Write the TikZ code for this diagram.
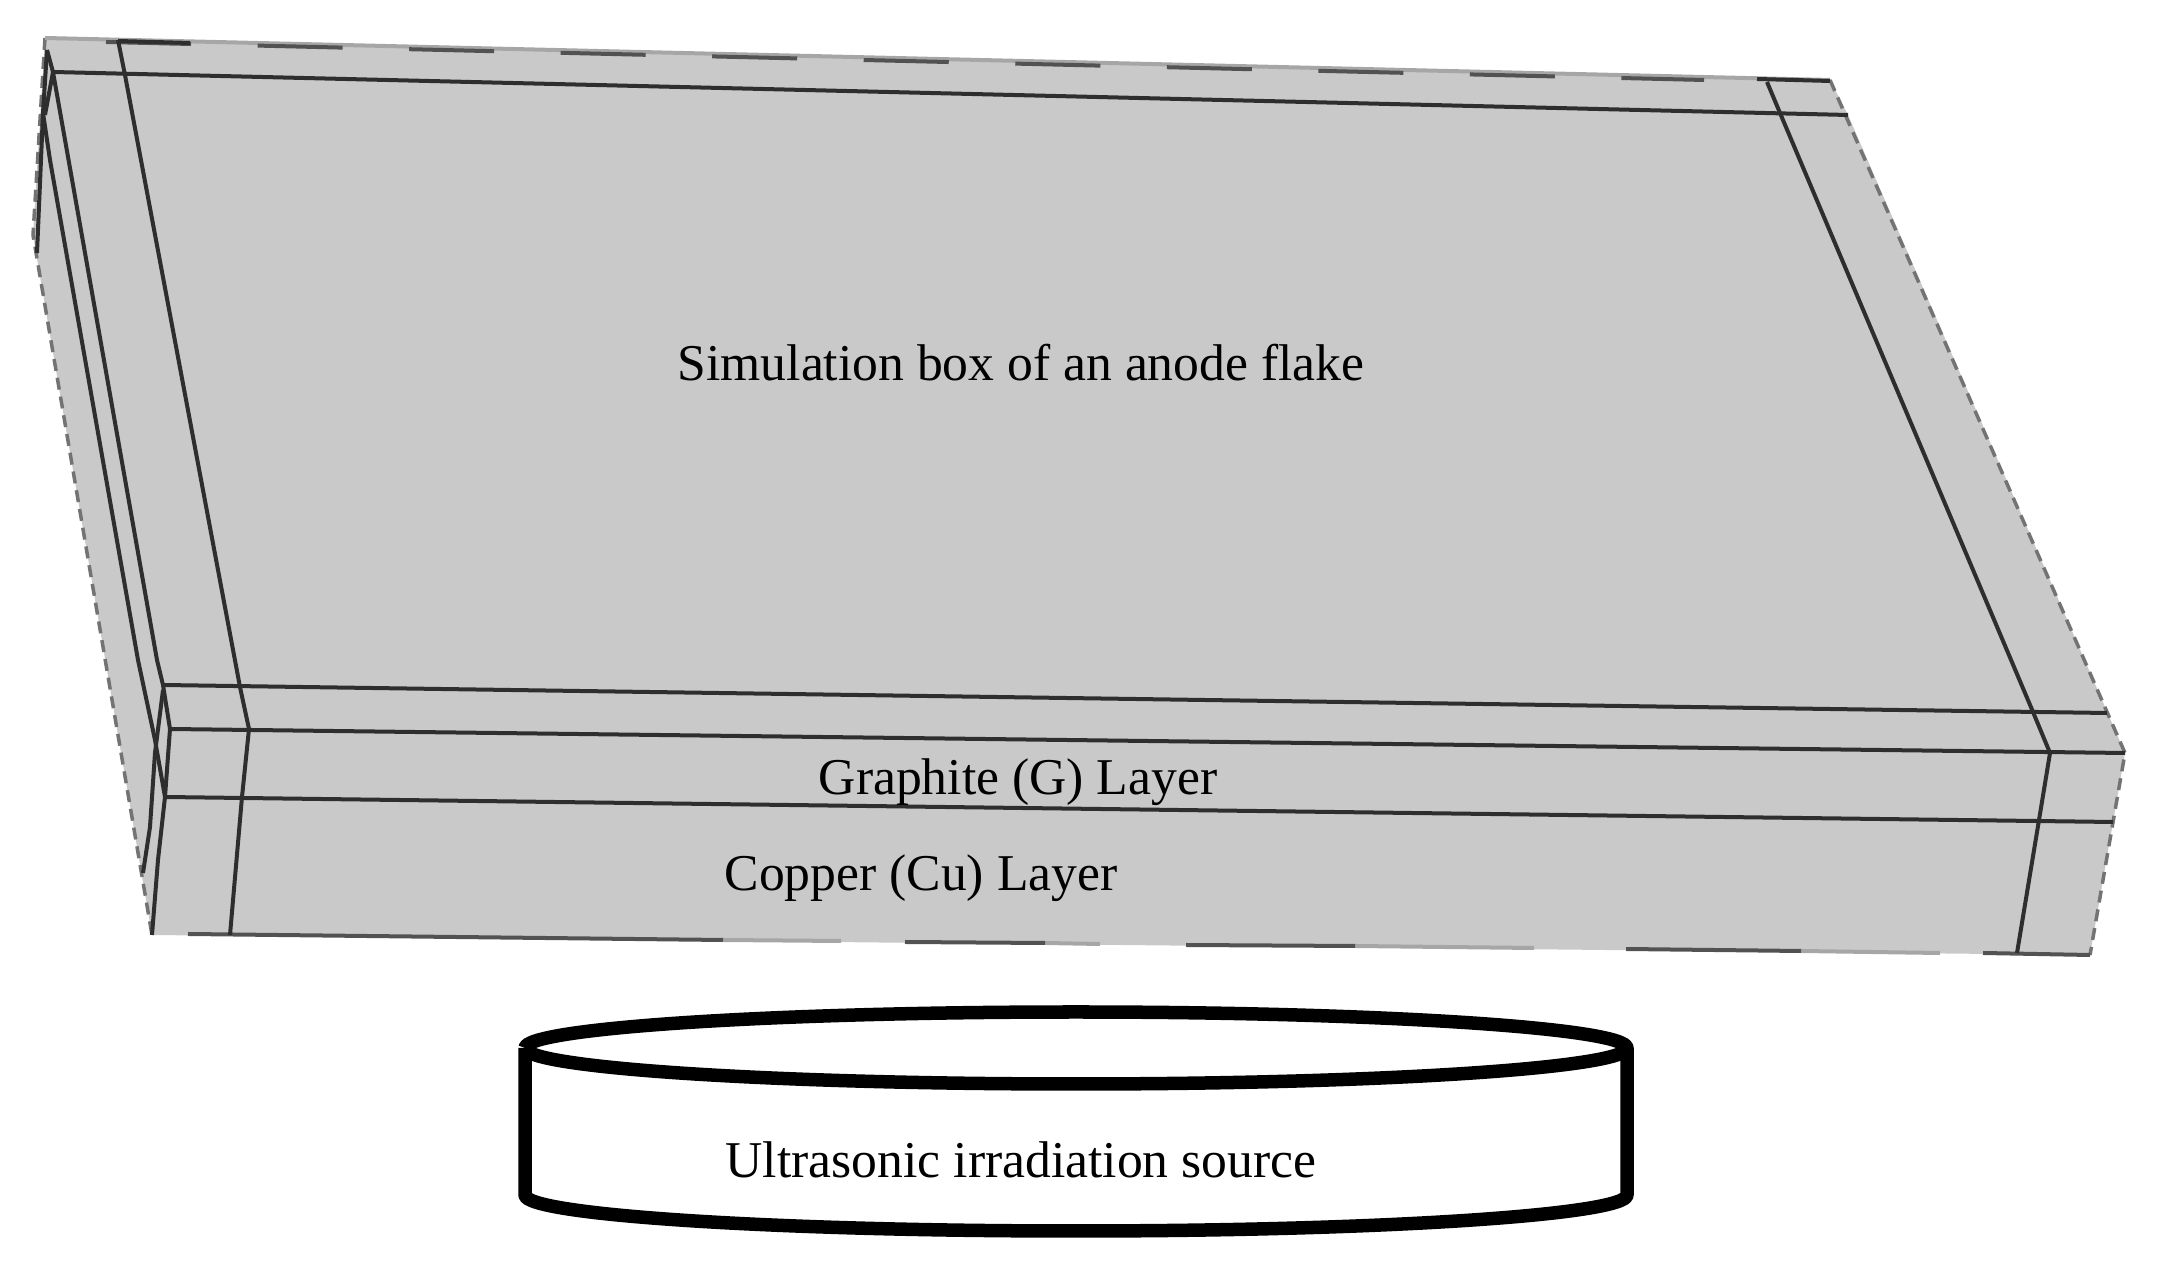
\documentclass[tikz,border=0pt]{standalone}
\usepackage{fontspec}
\setmainfont{Liberation Serif}
\tikzset{
	gridline/.style = {
		draw=black!82,
		line width=0.04cm,
		line join=round
	},
	rimline/.style = {
		draw=black!55,
		line width=0.035cm,
		dash pattern=on 0.12cm off 0.07cm
	},
	edgedark/.style = {
		draw=black!68,
		line width=0.04cm
	},
	edgefade/.style = {
		draw=black!35,
		line width=0.04cm
	},
	sourceline/.style = {
		draw=black,
		line width=0.135cm,
		line join=round
	},
	every node/.style = {
		align=center,
		inner sep=0pt,
		anchor=base,
		font=\fontsize{14.68}{17}\selectfont
	}
}
\begin{document}
\begin{tikzpicture}[x=0.01cm,y=-0.01cm]
	\useasboundingbox (0,0) rectangle (2163,1277);
	\coordinate (topleft) at (45,38);
	\coordinate (topright) at (1830,80);
	\coordinate (backright) at (1848,115);
	\coordinate (farright) at (2125,753);
	\coordinate (lowright) at (2090,955);
	\coordinate (lowleft) at (152,935);
	\coordinate (farleft) at (33,235);
	\fill[black!21] (topleft) -- (topright) -- (backright) -- (farright) -- (lowright) -- (lowleft) -- (farleft) -- cycle;
	\draw[rimline] (topright) -- (farright) -- (lowright);
	\draw[rimline] (topleft) -- (farleft) -- (lowleft);
	\draw[edgefade] (topleft) -- (topright);
	\draw[edgedark, dash pattern=on 0.85cm off 0.665cm] (106,42) -- (1704,80);
	\foreach \xa/\ya/\xb/\yb in {723/940/841/941, 1045/943/1100/944, 1355/946/1534/948, 1801/951/1940/953}
		\draw[edgefade] (\xa,\ya) -- (\xb,\yb);
	\foreach \xa/\ya/\xb/\yb in {188/934/723/940, 905/942/1045/943, 1186/945/1355/946, 1626/949/1801/951, 1983/953/2090/955}
		\draw[edgedark] (\xa,\ya) -- (\xb,\yb);
	\draw[gridline] (118,41) -- (190,43);
	\draw[gridline] (1757,79) -- (1830,81);
	\foreach \ya/\xa/\yb/\xb in {72/53/115/1848, 685/163/713/2107, 729/170/753/2125, 797/165/822/2113}
		\draw[gridline] (\xa,\ya) -- (\xb,\yb);
	\draw[gridline] (118,40) -- (125,75) -- (240,687) -- (249,729) -- (242,797) -- (230,935);
	\draw[gridline] (1767,82) -- (1780,113) -- (2033,712) -- (2050,753) -- (2039,820) -- (2017,953);
	\draw[gridline] (47,50) -- (53,72) -- (157,660) -- (163,685) -- (170,729) -- (165,797) -- (158,860) -- (lowleft);
	\draw[gridline] (43,113) -- (50,160) -- (138,660) -- (155,740) -- (165,797);
	\draw[gridline] (47,50) -- (43,113) -- (37,253);
	\draw[gridline] (53,72) -- (45,115);
	\draw[gridline] (163,690) -- (155,753) -- (150,827) -- (143,873);
	\draw[sourceline] (525,1048) arc[start angle=180,end angle=-180,x radius=551,y radius=36];
	\draw[sourceline] (525,1048) -- (525,1195) arc[start angle=180,end angle=360,x radius=551,y radius=-36] -- (1627,1048);
	\node (flake) at (1021,381) {Simulation box of an anode flake};
	\node (graphite) at (1018,795) {Graphite (G) Layer};
	\node (copper) at (921,891) {Copper (Cu) Layer};
	\node (source) at (1021,1178) {Ultrasonic irradiation source};
\end{tikzpicture}
\end{document}
